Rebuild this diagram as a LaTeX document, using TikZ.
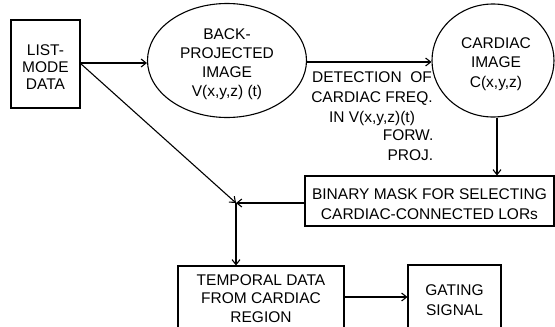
\documentclass[tikz,border=0pt]{standalone}
\usepackage{fontspec}
\setmainfont{Liberation Sans}
\usetikzlibrary{shapes.geometric,arrows.meta}
\begin{document}
\begin{tikzpicture}[x=1pt,y=-1pt,
  every node/.style={font=\fontsize{15.5}{19}\selectfont, align=center, inner sep=0pt},
  boxnode/.style={draw, line width=1.1pt, rectangle},
  ellnode/.style={draw, line width=1.1pt, ellipse},
  conn/.style={line width=1.1pt, -{Straight Barb[length=5pt,width=8pt]}}]
\useasboundingbox (0,0) rectangle (555,327);
\begin{scope}
\clip (0,0) rectangle (555,327);
\node[boxnode, minimum width=69pt, minimum height=88pt] (list) at (45.5,64) {};
\node[font=\fontsize{15.5}{17}\selectfont] (listtxt) at (45.5,67.5) {LIST-\\MODE\\DATA};
\node[ellnode, minimum width=159pt, minimum height=114pt] (bp) at (227,60.5) {};
\node (bptxt) at (227,64) {BACK-\\PROJECTED\\IMAGE\\V(x,y,z) (t)};
\node[ellnode, minimum width=122pt, minimum height=113pt] (card) at (493,60.5) {};
\node[font=\fontsize{15.5}{19.5}\selectfont] (cardtxt) at (496,64) {CARDIAC\\IMAGE\\C(x,y,z)};
\node[boxnode, minimum width=249pt, minimum height=50pt] (mask) at (429.5,201) {};
\node[font=\fontsize{15.5}{20}\selectfont] (masktxt) at (429.5,204) {BINARY MASK FOR SELECTING\\CARDIAC-CONNECTED LORs};
\node[boxnode, minimum width=166pt, minimum height=80pt] (temp) at (261,306) {};
\node[font=\fontsize{15.5}{18.5}\selectfont] (temptxt) at (261,298.5) {TEMPORAL DATA\\FROM CARDIAC\\REGION};
\node[boxnode, minimum width=93pt, minimum height=80pt] (gate) at (454.5,305) {};
\node[font=\fontsize{15.5}{20}\selectfont] (gatetxt) at (454.5,300.5) {GATING\\SIGNAL};
\end{scope}
\node[font=\fontsize{15.5}{20}\selectfont] (det) at (372,99) {DETECTION\ \ OF\\CARDIAC FREQ.\\IN V(x,y,z)(t)};
\node[align=right, anchor=east, font=\fontsize{15.5}{20}\selectfont] (forw) at (433.5,145.5) {FORW.\\PROJ.};
\coordinate (junc) at (236,203);
\coordinate (listc) at (80,63);
\draw[conn] (listc) -- (bp.west |- listc);
\draw[conn] (bp.east |- 0,62) -- (card.west |- 0,62);
\draw[conn] (card.south -| 497,0) -- (mask.north -| 497,0);
\draw[conn] (mask.west |- junc) -- (junc);
\draw[conn] (listc) -- (junc);
\draw[conn] (junc) -- (temp.north -| junc);
\draw[conn] (temp.east |- 0,297) -- (gate.west |- 0,297);
\end{tikzpicture}
\end{document}
